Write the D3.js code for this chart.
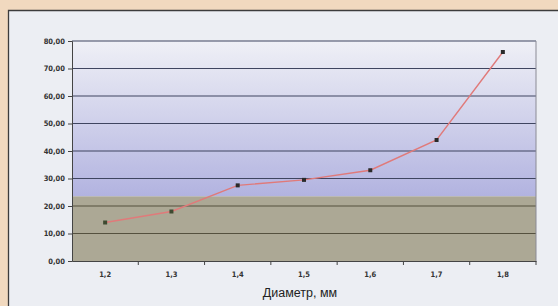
<!DOCTYPE html>
<html>
<head>
<meta charset="utf-8">
<script src="https://cdn.jsdelivr.net/npm/d3@7"></script>
<style>
  body { margin: 0; background: #f1d9bf; }
  svg { display: block; }
</style>
</head>
<body>
<svg id="chart" width="558" height="306"></svg>
<script>
// diameter categories and measured values
const diameters = ["1,2", "1,3", "1,4", "1,5", "1,6", "1,7", "1,8"];
const values = [14, 18, 27.5, 29.5, 33, 44, 76];
const yTicks = [0, 10, 20, 30, 40, 50, 60, 70, 80];
const bandTop = 23.5; // where the greyish lower band starts

const svg = d3.select("#chart");
const W = 558, H = 306;
const m = { left: 72, right: 22, top: 41, bottom: 45 };

// outer panel
svg.append("rect").attr("x", 8).attr("y", 10).attr("width", W - 8).attr("height", H - 10)
  .attr("fill", "#eceef3");
svg.append("path").attr("d", `M8.5,${H}V10.5H${W}`).attr("fill", "none")
  .attr("stroke", "#3c3c3c").attr("stroke-width", 1.3);

const x = d3.scaleBand().domain(diameters).range([m.left, W - m.right]);
const y = d3.scaleLinear().domain([0, 80]).range([H - m.bottom, m.top]);

const defs = svg.append("defs");
const grad = defs.append("linearGradient").attr("id", "bg")
  .attr("x1", 0).attr("y1", 0).attr("x2", 0).attr("y2", 1);
grad.append("stop").attr("offset", "0%").attr("stop-color", "#eff0f6");
grad.append("stop").attr("offset", "100%").attr("stop-color", "#b2b3e0");

// plot background
svg.append("rect").attr("x", m.left).attr("y", y(80))
  .attr("width", x.range()[1] - m.left).attr("height", y(bandTop) - y(80))
  .attr("fill", "url(#bg)");
svg.append("rect").attr("x", m.left).attr("y", y(bandTop))
  .attr("width", x.range()[1] - m.left).attr("height", y(0) - y(bandTop))
  .attr("fill", "#aca895");

// grid lines
svg.append("g").selectAll("line").data(yTicks.filter(d => d > 0)).join("line")
  .attr("x1", m.left).attr("x2", x.range()[1])
  .attr("y1", d => y(d)).attr("y2", d => y(d))
  .attr("stroke", d => d > bandTop ? "#3f4560" : "#55513f").attr("stroke-width", 1.2);

// right plot border
svg.append("line").attr("x1", x.range()[1]).attr("x2", x.range()[1])
  .attr("y1", y(80)).attr("y2", y(0)).attr("stroke", "#8a8a95");

// y axis
const yAxis = svg.append("g").attr("transform", `translate(${m.left},0)`)
  .call(d3.axisLeft(y).tickValues(yTicks).tickSize(4).tickPadding(3)
    .tickFormat(d => d3.format(".2f")(d).replace(".", ",")));

// x axis with ticks between categories
const xAxis = svg.append("g").attr("transform", `translate(0,${y(0)})`)
  .call(d3.axisBottom(x).tickSize(0).tickPadding(11));
xAxis.selectAll(".sep").data(diameters).join("line")
  .attr("class", "sep")
  .attr("x1", d => x(d) + x.bandwidth())
  .attr("x2", d => x(d) + x.bandwidth())
  .attr("y1", 0).attr("y2", 4).attr("stroke", "#444");

[yAxis, xAxis].forEach(g => {
  g.select(".domain").attr("stroke", "#444");
  g.selectAll(".tick line").attr("stroke", "#444");
  g.selectAll("text").attr("fill", "#333").attr("font-family", "DejaVu Sans Condensed, DejaVu Sans, sans-serif")
    .attr("font-size", 7.5).attr("font-weight", "bold");
});

// line
const cx = d => x(d) + x.bandwidth() / 2;
svg.append("path").datum(values)
  .attr("d", d3.line().x((d, i) => cx(diameters[i])).y(d => y(d)))
  .attr("fill", "none").attr("stroke", "#e07a7a").attr("stroke-width", 1.4);

// markers
svg.append("g").selectAll("rect").data(values).join("rect")
  .attr("x", (d, i) => cx(diameters[i]) - 2).attr("y", d => y(d) - 2)
  .attr("width", 4).attr("height", 4)
  .attr("fill", (d, i) => i < 2 ? "#3d4a30" : "#2a2a2a");

// axis title
svg.append("text").attr("x", 300).attr("y", 297).attr("text-anchor", "middle")
  .attr("font-family", "Liberation Sans, Arial, sans-serif").attr("font-size", 12.5)
  .attr("fill", "#222").text("Диаметр, мм");
</script>
</body>
</html>
